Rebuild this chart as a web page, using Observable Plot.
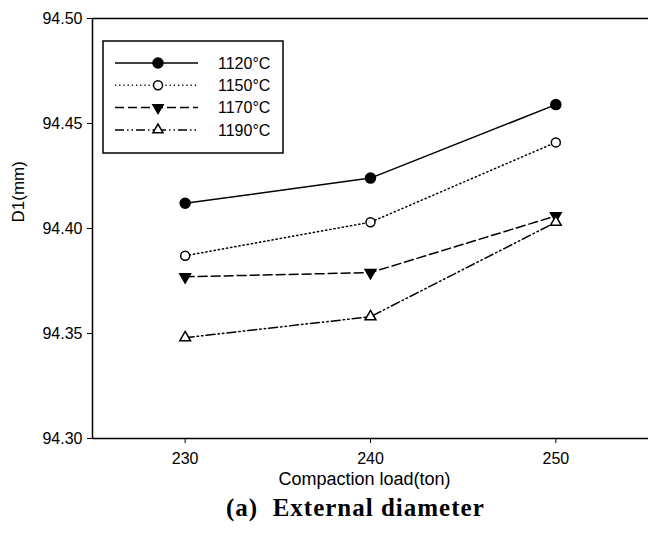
<!DOCTYPE html>
<html>
<head>
<meta charset="utf-8">
<script src="https://cdn.jsdelivr.net/npm/d3@7"></script>
<script src="https://cdn.jsdelivr.net/npm/@observablehq/plot@0.6"></script>
<style>
  body { margin: 0; background: #fff; }
  #chart { position: relative; width: 648px; }
  #caption { font-family: "Liberation Serif", serif; font-weight: bold; font-size: 25px; letter-spacing: 1px;
             color: #000; width: 648px; padding-left: 226px; box-sizing: border-box; margin-top: 1px;
             white-space: pre; line-height: 29px; }
</style>
</head>
<body>
<div id="chart"></div>
<div id="caption">(a)  External diameter</div>
<script>
const loads = [230, 240, 250];
const seriesNames = ["1120°C", "1150°C", "1170°C", "1190°C"];
const t1120 = [94.412, 94.424, 94.459];
const t1150 = [94.387, 94.403, 94.441];
const t1170 = [94.377, 94.379, 94.406];
const t1190 = [94.348, 94.358, 94.403];
const yTicks = [94.30, 94.35, 94.40, 94.45, 94.50];
const xTicks = [230, 240, 250];

const styles = {
  "1120°C": {dash: null, symbol: "circle", fill: "black", rotate: 0, r: 5},
  "1150°C": {dash: "1.2,3", symbol: "circle", fill: "white", rotate: 0, r: 4.5},
  "1170°C": {dash: "9,4", symbol: "triangle", fill: "black", rotate: 180, r: 4},
  "1190°C": {dash: "9,3,1.5,3,1.5,3", symbol: "triangle", fill: "white", rotate: 0, r: 4}
};

const values = [t1120, t1150, t1170, t1190];
const data = [];
seriesNames.forEach((s, i) => loads.forEach((x, j) => data.push({series: s, load: x, d: values[i][j]})));

const marks = [
  Plot.ruleY([94.50], {stroke: "black", strokeWidth: 1.5}),
  Plot.ruleY([94.30], {stroke: "black", strokeWidth: 1.5}),
  Plot.ruleX([225], {stroke: "black", strokeWidth: 1.5}),
  Plot.axisX({ticks: xTicks, tickSize: 5, tickPadding: 9, tickFormat: d => String(d), label: null, fontSize: 16}),
  Plot.axisY({ticks: yTicks, tickSize: 5, tickPadding: 5, tickFormat: d => d.toFixed(2), label: null, fontSize: 16}),
  Plot.text(["D1(mm)"], {frameAnchor: "left", dx: -74, dy: -6, rotate: -90, fontSize: 17, fill: "black"}),
  Plot.text(["Compaction load(ton)"], {frameAnchor: "bottom", dx: -6, dy: 46, fontSize: 18, fill: "black"})
];
seriesNames.forEach(s => {
  const st = styles[s];
  const sub = data.filter(d => d.series === s);
  marks.push(Plot.line(sub, {x: "load", y: "d", stroke: "black", strokeWidth: 1.5, strokeDasharray: st.dash}));
  marks.push(Plot.dot(sub, {x: "load", y: "d", symbol: st.symbol, r: st.r, fill: st.fill, stroke: "black",
    strokeWidth: 1.5, rotate: st.rotate}));
});

const plot = Plot.plot({
  width: 648, height: 492,
  marginLeft: 92, marginRight: 0, marginTop: 18, marginBottom: 54,
  style: {fontFamily: "'Liberation Sans', Arial, sans-serif", color: "black", background: "white", overflow: "visible"},
  x: {domain: [225, 255]},
  y: {domain: [94.30, 94.50]},
  marks
});
document.getElementById("chart").appendChild(plot);

const svg = d3.select(plot);
// enlarge numeric tick labels
svg.selectAll("text").each(function() {
  if (/^\d+(\.\d+)?$/.test(this.textContent.trim())) {
    this.setAttribute("font-size", "16");
    this.style.fontSize = "16px";
  }
});

// Legend box drawn inside the SVG
const lg = svg.append("g").attr("transform", "translate(103,41)");
lg.append("rect").attr("width", 180).attr("height", 112).attr("fill", "white").attr("stroke", "black").attr("stroke-width", 1.5);
seriesNames.forEach((s, i) => {
  const st = styles[s];
  const y = 22 + i * 22.3;
  lg.append("line").attr("x1", 12).attr("x2", 95).attr("y1", y).attr("y2", y)
    .attr("stroke", "black").attr("stroke-width", 1.5).attr("stroke-dasharray", st.dash);
  const sym = st.symbol === "circle" ? d3.symbolCircle : d3.symbolTriangle;
  const size = st.symbol === "circle" ? Math.PI * st.r * st.r : 45;
  lg.append("path").attr("d", d3.symbol(sym, size)())
    .attr("transform", `translate(55,${y}) rotate(${st.rotate})`)
    .attr("fill", st.fill).attr("stroke", "black").attr("stroke-width", 1.5);
  lg.append("text").attr("x", 115).attr("y", y).attr("dy", "0.35em").attr("font-size", 16)
    .attr("text-anchor", "start").attr("fill", "black").text(s);
});
</script>
</body>
</html>
